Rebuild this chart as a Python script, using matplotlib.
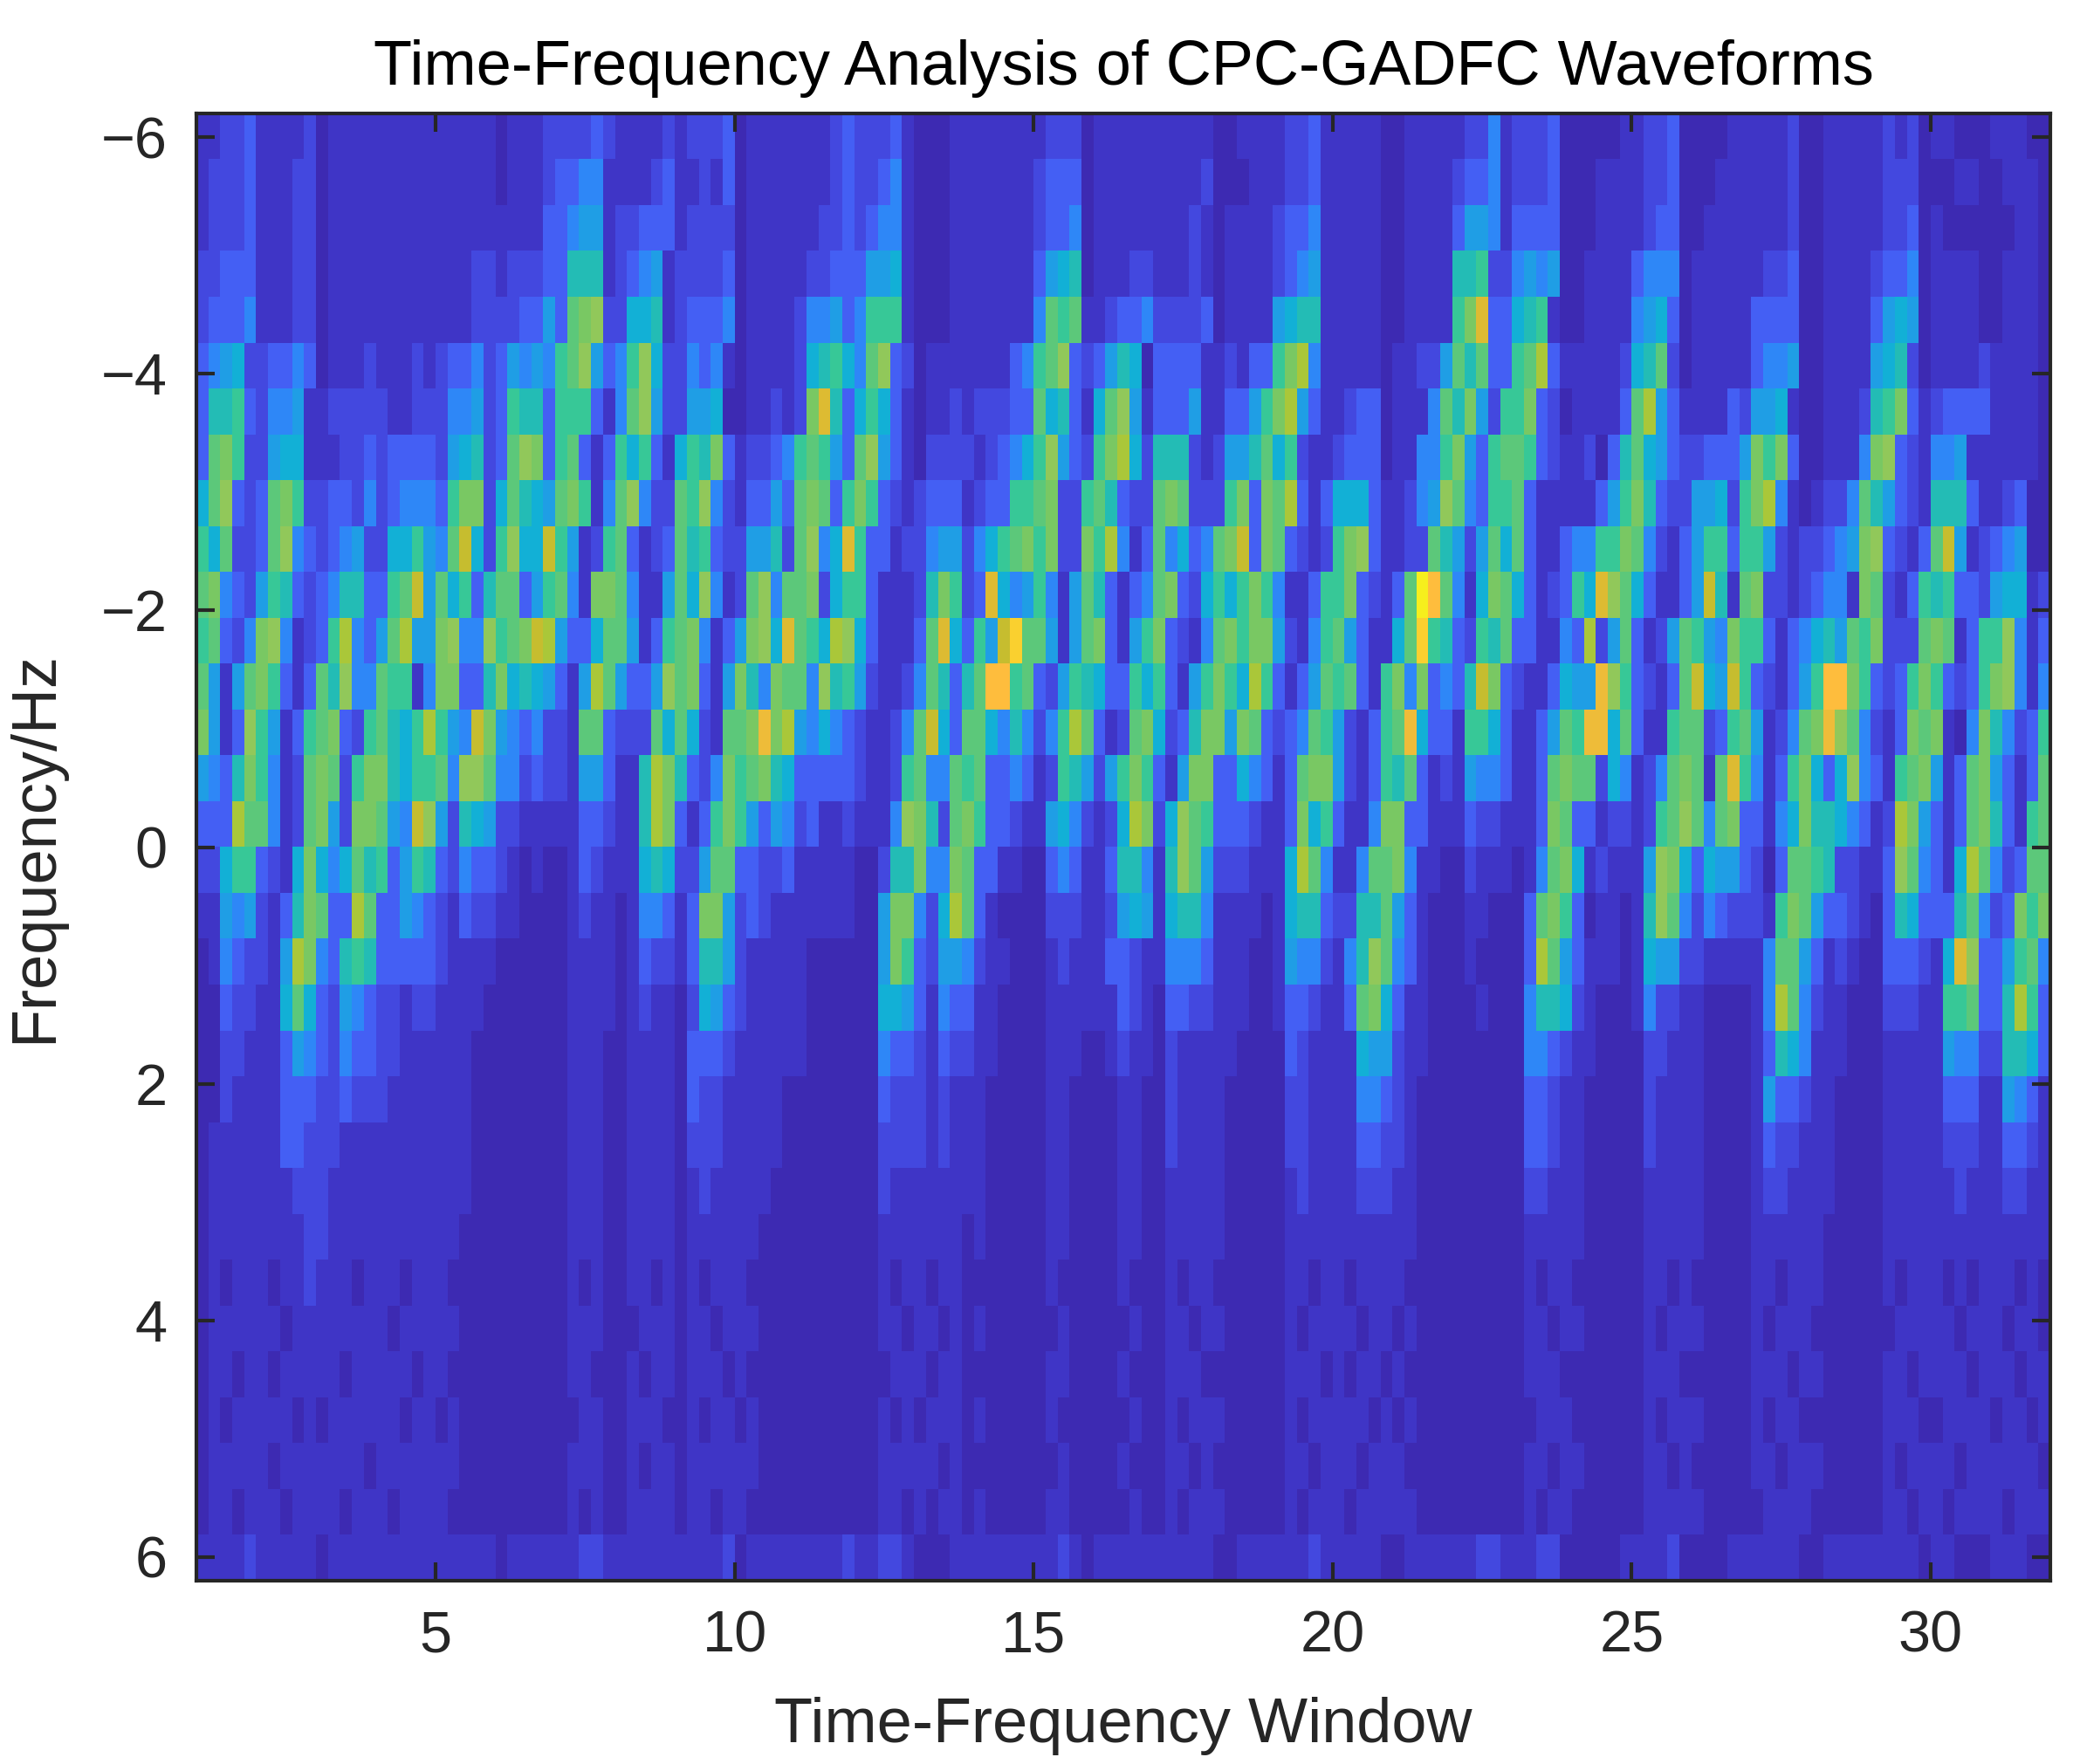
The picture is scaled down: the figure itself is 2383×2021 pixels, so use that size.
# -*- coding: utf-8 -*-
import matplotlib
matplotlib.use("Agg")
import matplotlib.pyplot as plt
from matplotlib.colors import LinearSegmentedColormap
import numpy as np

plt.rcParams['font.family'] = ['Liberation Sans', 'DejaVu Sans']

# power levels, 0 (dark) .. k (=20, brightest), base 36 digits
# one line per frequency bin, top to bottom, 5 cells per time window
power_rows = [
    "11223 11112 01111 11111 11111 01112 22232 11112 12223 01111 11123 22231 00011 11111 12220 11111 11111 00111 12231 11110 01111 12241 22230 00001 12230 00011 11120 01111 12120 11000 11100",
    "12223 11122 01111 11111 11111 01112 33441 11123 11213 01111 11123 22341 00011 11111 23330 11111 11112 00011 12231 11110 01111 23341 22230 00111 12230 00111 11120 01111 12220 00110 01110",
    "12223 11122 01111 11111 11111 11113 34551 22333 12222 01111 11223 23441 00011 11111 23340 11111 11121 01111 23341 11110 01111 35541 33330 00111 12330 01111 11120 01111 12230 10000 00110",
    "22333 11122 01111 11111 11122 12223 37771 23451 22223 01111 12233 35561 00011 11111 35670 11122 11121 01111 23451 11110 01111 77822 45450 01111 34440 11111 12230 01111 23340 11110 01110",
    "23334 11122 01111 11111 11122 22335 39ab2 26671 23334 01111 24453 48881 00011 11111 49891 12334 22223 01111 56771 11110 01111 8ae33 67810 01111 45630 11111 33330 01111 35650 11110 01110",
    "34562 23343 01112 11121 23342 35454 89b53 48b62 24341 01111 26786 49b32 01111 11134 89b32 35760 33331 12133 8ac41 11110 11225 97933 89c31 11112 67920 11111 34450 01111 56720 11112 11110",
    "37783 24451 12222 21122 24452 38773 88831 49b52 25560 01121 2ae73 68631 01121 22233 96731 69b51 33351 13358 ac531 12330 11149 7a528 8a320 11113 9c531 11132 55610 01112 78a31 23333 11110",
    "39a82 25661 11223 23333 25672 39ba3 89313 86831 687a3 12234 89853 9b531 02222 12346 8b532 8ac62 77721 25579 68211 23330 11448 a5389 98321 12037 96532 23335 a8a30 01114 ab321 44511 11110",
    "69b32 39a82 23324 23444 38aa2 69765 9a814 9b422 98b42 13353 9a938 a8321 23331 23388 9a228 97322 9a922 28a3a 9c313 66631 1245b 94388 93111 11358 a7322 55628 ac410 12249 75321 77731 12300",
    "86922 39b43 23452 26685 49d62 8b66d 85128 93123 97832 25572 9b46e 83312 24552 4689a 8a22a 8c413 94634 9ad3a 93212 8ab31 12297 52596 93113 4488a 94213 58838 85212 2345a b3213 9d512 34500",
    "9a432 58732 34773 389d5 96837 99358 941aa 94115 96b41 29b49 9a268 83111 27a82 3e645 84159 73134 9a326 868a8 41138 8a321 39jg9 416a9 63123 86eb9 63113 5d719 a2212 3441a 92138 78332 56612",
    "89324 ab412 38c43 59c55 ab44b 89adc 53369 95138 9a413 5ab6e 986cb 63111 39e63 85dh9 95159 a3158 a3214 9a8aa 52148 95311 69h87 32879 33114 3c259 31259 854a8 83134 67598 a2229 a9138 8b413",
    "95159 a8313 97b44 98814 aa337 a6765 315c9 5335b 9a315 a74a9 94b78 52112 49737 9gg89 32587 63386 83158 a86c8 31359 89318 a4a34 37da3 21136 55fb8 32139 d65d8 32135 8gga8 3238a 83238 ab414",
    "a513b 85138 9a328 9768c 854da 54342 21993 22296 96219 9afac 54643 21124 9d639 96474 248c9 3129a 6237a a5a93 23498 52138 9f633 18863 11359 8ff69 31189 92389 51249 afb94 213a9 a104a 74238",
    "5437a 84129 a928a a7688 94bb9 44232 21553 117ca 7324a 89a76 33333 21128 94498 93343 12875 258a8 315aa 33643 139aa 52138 79312 15443 1139a 99264 1249a 919e8 4138a 636b4 3189a 5139a 53139",
    "333c9 94129 a52aa 954db 52765 22111 11332 117ca 3138a 85354 23112 1114b a729a 83321 15642 126ca 26b98 33321 13a68 3114a a3311 13221 113a9 33122 1289b 949a3 3146a 77643 12ca5 3139a 73189",
    "22688 3216a 64697 83587 32433 21010 01321 11676 22599 33223 11111 00277 a44a9 33110 03431 13774 17b95 22211 16c94 11499 a4110 02111 0149a 61211 15ba6 36553 20399 87221 13b94 316c9 42399",
    "11545 2137a 933c9 33543 21322 11000 01211 01443 13aa5 23211 11111 005aa 426c9 31000 02221 12565 16774 11110 16773 22779 53100 01100 039a8 30110 17b94 24322 218a9 53321 03763 33794 23a8a",
    "01432 215ca 43787 33333 21111 00000 01111 01322 13775 21111 10000 005a8 32554 21100 01211 13321 14443 11100 15442 147b9 43100 01000 03c95 31110 16552 21111 14995 31210 03332 16eb3 35894",
    "00322 11696 32543 22122 11110 00000 01111 01211 02653 21111 10000 00665 31433 11000 01111 11321 03322 11100 13321 139a6 31100 00100 04776 21000 14221 10000 14c94 21100 02221 18893 37c83",
    "00221 11354 32433 22111 11100 00000 01110 01111 03332 11111 10000 00433 21322 11000 01110 01211 02111 11000 03211 11655 21100 00000 04432 11000 02211 10000 13764 11100 01111 15442 27763",
    "00211 11333 22322 21111 11100 00000 01110 01111 03221 11110 00000 00322 21211 10000 01100 00110 02111 10000 02211 11443 21000 00000 03321 10000 02111 10000 15332 11000 01111 13331 15431",
    "01111 11332 22111 11111 11100 00000 01110 01111 02221 11110 00000 00222 21211 10000 01100 00110 02111 10000 02211 11332 21000 00000 03321 10000 02111 10000 13221 11000 01111 12221 13321",
    "01111 11122 21111 11111 11100 00000 01110 01111 01211 11100 00000 00211 11111 10000 01100 00110 01111 10000 01211 11222 11000 00000 02211 10000 01111 10000 12211 11000 01111 11211 12211",
    "01111 11112 21111 11111 11000 00000 01110 01111 01111 11000 00000 00111 11110 10000 01100 00110 01111 10000 01111 11111 11000 00000 01111 10000 01111 10000 11111 10000 01111 11111 11111",
    "01011 10112 11101 11011 10000 00000 01010 01101 01011 10000 00000 00101 10110 00000 01000 00100 01011 00000 01101 10111 10000 00000 01011 00000 01101 00000 11011 10000 01011 10101 11010",
    "01111 11011 11111 10111 11000 00000 01110 00111 01101 11000 00000 00110 11010 10000 00100 00010 01101 10000 01011 11011 01000 00000 01101 10000 01011 10000 10111 00000 00111 11011 10110",
    "01101 10111 11011 11101 10000 00000 01100 01011 01110 10000 00000 00011 10110 00000 01100 00100 01110 00000 01110 10110 10000 00000 01110 00000 01110 00000 11101 10000 01101 11101 11011",
    "01011 11101 01111 11011 01000 00000 00110 01110 01011 01000 00000 00101 01110 10000 01000 00010 01011 10000 01011 11101 01000 00000 00111 00000 01011 10000 10110 00000 01110 01111 01101",
    "01111 10111 11110 11111 11000 00000 01110 01011 01111 11000 00000 00111 11010 00000 00100 00100 01101 00000 01101 11011 10000 00000 01101 10000 01101 00000 11011 10000 01011 11011 11110",
    "01101 11011 11011 10111 10000 00000 01010 01111 01101 10000 00000 00110 10110 10000 01100 00010 01011 10000 01011 10111 11000 00000 01011 00000 01111 10000 01111 00000 01101 10111 10111",
    "11112 11111 01111 11111 11111 01111 11221 11111 11112 01111 11112 11221 00011 11111 11210 11111 11111 00111 11121 11110 01111 11221 11220 00001 11120 00011 11110 01111 11110 11000 11100",
]

x_ticks = [5, 10, 15, 20, 25, 30]
y_ticks = [-6, -4, -2, 0, 2, 4, 6]
title_text = 'Time-Frequency Analysis of CPC-GADFC Waveforms'
x_label = 'Time-Frequency Window'
y_label = 'Frequency/Hz'

# parula style colours, the low end kept tight like the reference
cmap_colors = ['#3d2ab2', '#4036c8', '#4449e0', '#4560f5', '#2e87f7', '#209ee6', '#12b1d6',
               '#24bdb5', '#37c897', '#5cc87b', '#78c864', '#92c85a', '#abc739', '#c6be2f',
               '#ddbb32', '#eebc39', '#febd3d', '#fbd030', '#f5e327', '#f6ef1e', '#f9fb15']
parula = LinearSegmentedColormap.from_list('parula_like', cmap_colors, N=256)

levels = []
for row in power_rows:
    cells = row.replace(' ', '')
    if len(cells) != 155:
        print('bad row length', len(cells), cells[:20])
    cells = cells.ljust(155, '0')[:155]
    levels.append([int(c, 36) for c in cells])
levels = np.array(levels, dtype=float)

fig = plt.figure(figsize=(2383 / 300, 2021 / 300), dpi=300)
ax = fig.add_axes([225 / 2383, 1 - 1811 / 2021, (2349 - 225) / 2383, (1811 - 130) / 2021])
ax.imshow(levels, cmap=parula, vmin=0, vmax=20, aspect='auto', interpolation='nearest',
          extent=[1, 32, 6.2, -6.2])

ax.set_xticks(x_ticks)
ax.set_yticks(y_ticks)
ax.tick_params(direction='in', length=5, width=1, color='#262626', labelcolor='#262626',
               labelsize=16, top=True, right=True, pad=8)
for side in ax.spines.values():
    side.set_linewidth(1)
    side.set_color('#262626')

ax.set_title(title_text, fontsize=17.3, color='black', pad=8)
ax.set_xlabel(x_label, fontsize=17.3, color='#262626', labelpad=9)
ax.set_ylabel(y_label, fontsize=17.3, color='#262626', labelpad=10)

fig.savefig('out.png', dpi=300)
